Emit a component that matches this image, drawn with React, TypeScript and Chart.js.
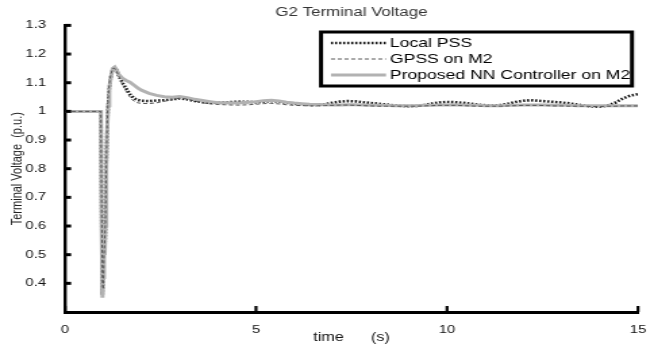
import React, { useEffect, useRef } from 'react';
import { Chart, registerables } from 'chart.js';

Chart.register(...registerables);

// ---- data ----
const timeS = [
  0, 0.5, 0.94, 0.96, 0.98, 1.0, 1.02, 1.04, 1.06, 1.08, 1.1, 1.13, 1.16, 1.2, 1.25, 1.3, 1.35, 1.4, 1.5, 1.6, 1.7, 1.8, 1.9,
  2.0, 2.2, 2.4, 2.6, 2.8, 3.0, 3.2, 3.4, 3.6, 3.8, 4.0, 4.2, 4.4, 4.6, 4.8, 5.0, 5.2, 5.4, 5.6, 5.8,
  6.0, 6.2, 6.4, 6.6, 6.8, 7.0, 7.2, 7.4, 7.6, 7.8, 8.0, 8.2, 8.4, 8.6, 8.8, 9.0, 9.2, 9.4, 9.6, 9.8,
  10.0, 10.2, 10.4, 10.6, 10.8, 11.0, 11.2, 11.4, 11.6, 11.8, 12.0, 12.2, 12.4, 12.6, 12.8, 13.0, 13.2, 13.4, 13.6, 13.8,
  14.0, 14.2, 14.4, 14.6, 14.8, 15.0,
];

const localPSS = [
  1.0, 1.0, 1.0, 0.6, 0.36, 0.42, 0.55, 0.5, 0.6, 0.8, 0.92, 1.02, 1.08, 1.12, 1.148, 1.152, 1.145, 1.127, 1.1, 1.08, 1.06, 1.046, 1.04,
  1.037, 1.036, 1.038, 1.039, 1.042, 1.045, 1.042, 1.036, 1.032, 1.03, 1.03, 1.031, 1.033, 1.034, 1.033, 1.032, 1.034, 1.036, 1.034, 1.03,
  1.027, 1.025, 1.022, 1.022, 1.025, 1.03, 1.034, 1.036, 1.035, 1.032, 1.029, 1.027, 1.024, 1.021, 1.019, 1.018, 1.019, 1.022, 1.027, 1.031,
  1.033, 1.032, 1.03, 1.027, 1.024, 1.021, 1.02, 1.022, 1.027, 1.033, 1.037, 1.039, 1.037, 1.035, 1.033, 1.031, 1.028, 1.024, 1.02, 1.017,
  1.016, 1.02, 1.03, 1.045, 1.055, 1.06,
];

const gpssM2 = [
  1.0, 1.0, 1.0, 0.65, 0.4, 0.38, 0.5, 0.55, 0.62, 0.82, 0.95, 1.05, 1.1, 1.13, 1.15, 1.15, 1.14, 1.125, 1.095, 1.07, 1.05, 1.036, 1.03,
  1.028, 1.027, 1.03, 1.035, 1.042, 1.046, 1.043, 1.036, 1.03, 1.026, 1.024, 1.023, 1.022, 1.022, 1.023, 1.025, 1.027, 1.028, 1.026, 1.023,
  1.021, 1.02, 1.019, 1.019, 1.02, 1.021, 1.022, 1.022, 1.021, 1.02, 1.019, 1.018, 1.018, 1.018, 1.018, 1.018, 1.018, 1.019, 1.02, 1.021,
  1.021, 1.021, 1.02, 1.019, 1.018, 1.018, 1.018, 1.018, 1.019, 1.02, 1.021, 1.021, 1.021, 1.02, 1.019, 1.019, 1.018, 1.018, 1.018, 1.017,
  1.017, 1.018, 1.018, 1.019, 1.019, 1.019,
];

const nnM2 = [
  1.0, 1.0, 1.0, 0.6, 0.35, 0.42, 0.55, 0.5, 0.6, 0.8, 0.92, 1.02, 1.08, 1.12, 1.15, 1.155, 1.145, 1.13, 1.116, 1.108, 1.102, 1.092, 1.082,
  1.074, 1.063, 1.056, 1.051, 1.049, 1.052, 1.048, 1.042, 1.038, 1.034, 1.03, 1.03, 1.029, 1.03, 1.032, 1.034, 1.037, 1.039, 1.036, 1.032,
  1.029, 1.027, 1.025, 1.024, 1.023, 1.022, 1.022, 1.023, 1.023, 1.022, 1.021, 1.021, 1.021, 1.02, 1.02, 1.02, 1.02, 1.021, 1.021, 1.022,
  1.022, 1.022, 1.022, 1.021, 1.021, 1.02, 1.02, 1.02, 1.021, 1.021, 1.022, 1.022, 1.022, 1.022, 1.021, 1.021, 1.021, 1.02, 1.02, 1.02,
  1.02, 1.02, 1.02, 1.02, 1.02, 1.02,
];

const seriesLabels = ['Local PSS', 'GPSS on M2', 'Proposed NN Controller on M2'];
const xTickValues = [0, 5, 10, 15];
const xTickLabels = ['0', '5', '10', '15'];
const yTickValues = [0.4, 0.5, 0.6, 0.7, 0.8, 0.9, 1.0, 1.1, 1.2, 1.3];
const yTickLabels = ['0.4', '0.5', '0.6', '0.7', '0.8', '0.9', '1', '1.1', '1.2', '1.3'];

// ---- layout (the reference is a horizontally stretched picture) ----
const PAGE_W = 654;
const PAGE_H = 347;
const BUF_W = 484;
const S = PAGE_W / BUF_W;
const FONT = "'Liberation Sans', Arial, Helvetica, sans-serif";

const toPoints = (vals: number[]) => vals.map((v, i) => ({ x: timeS[i], y: v }));

const inwardTicks = {
  id: 'inwardTicks',
  afterDraw(chart: any) {
    const { ctx, chartArea } = chart;
    const x = chart.scales.x;
    const y = chart.scales.y;
    ctx.save();
    ctx.strokeStyle = '#000';
    ctx.lineCap = 'butt';
    ctx.lineWidth = 3;
    y.ticks.forEach((t: any) => {
      const py = y.getPixelForValue(t.value);
      ctx.beginPath();
      ctx.moveTo(chartArea.left, py);
      ctx.lineTo(chartArea.left + 4.5, py);
      ctx.stroke();
    });
    ctx.lineWidth = 2.2;
    x.ticks.forEach((t: any) => {
      const px = x.getPixelForValue(t.value);
      ctx.beginPath();
      ctx.moveTo(px, chartArea.bottom);
      ctx.lineTo(px, chartArea.bottom - 6);
      ctx.stroke();
    });
    ctx.restore();
  },
};

const boxLegend = {
  id: 'boxLegend',
  afterDraw(chart: any) {
    const { ctx } = chart;
    const x1 = 321 / S;
    const x2 = 632 / S;
    const y1 = 32;
    const y2 = 86;
    const rows = [43, 59, 75];
    const s1 = 331 / S;
    const s2 = 386 / S;
    const tx = 390 / S;
    ctx.save();
    ctx.fillStyle = '#fff';
    ctx.fillRect(x1, y1, x2 - x1, y2 - y1);
    ctx.lineWidth = 3;
    ctx.strokeStyle = '#000';
    ctx.setLineDash([]);
    ctx.strokeRect(x1, y1, x2 - x1, y2 - y1);
    chart.data.datasets.forEach((ds: any, i: number) => {
      const yy = rows[i];
      ctx.save();
      ctx.strokeStyle = ds.borderColor;
      ctx.lineWidth = ds.borderWidth;
      ctx.setLineDash(ds.borderDash || []);
      ctx.beginPath();
      ctx.moveTo(s1, yy);
      ctx.lineTo(s2, yy);
      ctx.stroke();
      ctx.restore();
      ctx.fillStyle = '#000';
      ctx.font = `13px ${FONT}`;
      ctx.textBaseline = 'middle';
      ctx.textAlign = 'left';
      ctx.fillText(ds.label, tx, yy);
    });
    ctx.restore();
  },
};

export default function App() {
  const ref = useRef<HTMLCanvasElement>(null);

  useEffect(() => {
    if (!ref.current) return;
    const chart = new Chart(ref.current, {
      type: 'line',
      data: {
        datasets: [
          {
            label: seriesLabels[0],
            data: toPoints(localPSS),
            borderColor: '#111',
            borderWidth: 2.6,
            borderDash: [1.5, 1.5],
            pointRadius: 0,
            tension: 0,
            order: 1,
          },
          {
            label: seriesLabels[1],
            data: toPoints(gpssM2),
            borderColor: '#555',
            borderWidth: 1,
            borderDash: [3, 2],
            pointRadius: 0,
            tension: 0,
            order: 0,
          },
          {
            label: seriesLabels[2],
            data: toPoints(nnM2),
            borderColor: '#b2b2b2',
            borderWidth: 3,
            pointRadius: 0,
            tension: 0,
            order: 0,
          },
        ],
      },
      options: {
        responsive: false,
        animation: false,
        devicePixelRatio: 1,
        layout: { padding: { left: 0, right: BUF_W - 638 / S, top: 0, bottom: 0 } },
        plugins: {
          legend: { display: false },
          tooltip: { enabled: false },
          title: {
            display: true,
            text: 'G2 Terminal Voltage',
            fullSize: false,
            color: '#333',
            font: { family: FONT, size: 12.5, weight: 'normal' },
            padding: { top: 5, bottom: 5.4 },
          },
        },
        scales: {
          x: {
            type: 'linear',
            min: 0,
            max: 15,
            afterBuildTicks: (s: any) => {
              s.ticks = xTickValues.map((v) => ({ value: v }));
            },
            afterFit: (s: any) => {
              s.height = PAGE_H - 312;
            },
            ticks: {
              callback: (_v: any, i: number) => xTickLabels[i],
              color: '#111',
              font: { family: FONT, size: 11 },
              padding: 3,
              maxRotation: 0,
              autoSkip: false,
            },
            grid: { display: false },
            border: { display: true, color: '#000', width: 3 },
            title: {
              display: true,
              text: 'time      (s)',
              color: '#111',
              font: { family: FONT, size: 12 },
              padding: { top: 0, bottom: 2 },
            },
          },
          y: {
            type: 'linear',
            min: 0.3,
            max: 1.3,
            afterBuildTicks: (s: any) => {
              s.ticks = yTickValues.map((v) => ({ value: v }));
            },
            afterFit: (s: any) => {
              s.width = 65 / S;
            },
            ticks: {
              callback: (_v: any, i: number) => yTickLabels[i],
              color: '#111',
              font: { family: FONT, size: 11 },
              padding: 6,
              autoSkip: false,
            },
            grid: { display: false },
            border: { display: true, color: '#000', width: 2.4 },
            title: {
              display: true,
              text: 'Terminal Voltage  (p.u.)',
              color: '#222',
              font: { family: FONT, size: 11 },
              padding: { top: 6.7, bottom: 0 },
            },
          },
        },
      } as any,
      plugins: [inwardTicks, boxLegend],
    });
    return () => chart.destroy();
  }, []);

  return (
    <div style={{ position: 'fixed', left: 0, top: 0, width: PAGE_W, height: PAGE_H, background: '#fff' }}>
      <canvas
        ref={ref}
        width={BUF_W}
        height={PAGE_H}
        style={{ width: `${PAGE_W}px`, height: `${PAGE_H}px`, display: 'block' }}
      />
    </div>
  );
}
